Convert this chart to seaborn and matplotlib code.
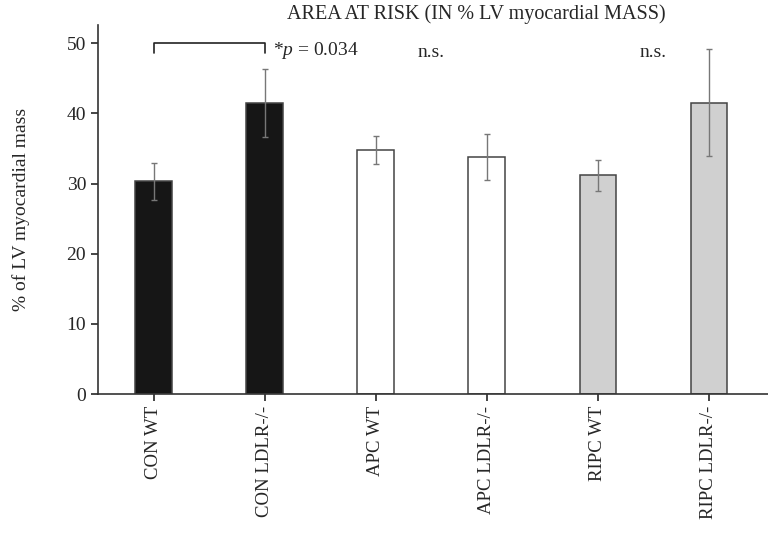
import matplotlib
matplotlib.use('Agg')
import matplotlib.pyplot as plt
import seaborn as sns
import numpy as np
import pandas as pd

groups = ['CON WT', 'CON LDLR-/-', 'APC WT', 'APC LDLR-/-', 'RIPC WT', 'RIPC LDLR-/-']
area_at_risk = [30.3, 41.5, 34.8, 33.8, 31.2, 41.5]
sem = [2.6, 4.8, 2.0, 3.3, 2.2, 7.6]
bar_colors = ['#161616', '#161616', '#ffffff', '#ffffff', '#d0d0d0', '#d0d0d0']

sns.set_style('ticks')
plt.rcParams['font.family'] = ['Liberation Serif', 'DejaVu Serif']
plt.rcParams['mathtext.fontset'] = 'custom'
plt.rcParams['mathtext.rm'] = 'Liberation Serif'
plt.rcParams['mathtext.it'] = 'Liberation Serif:italic'

df = pd.DataFrame({'group': groups, 'value': area_at_risk})

fig = plt.figure(figsize=(7.68, 5.42), dpi=100)
ax = fig.add_axes([0.1276, 0.273, 0.875, 0.681])

sns.barplot(data=df, x='group', y='value', hue='group', palette=bar_colors,
            width=0.33, edgecolor='#444444', linewidth=1.1, legend=False, ax=ax)
ax.errorbar(np.arange(len(groups)), area_at_risk, yerr=sem, fmt='none',
            ecolor='#777777', elinewidth=1.0, capsize=2.5, capthick=1.0)

ax.set_xlim(-0.5, 5.55)
ax.set_ylim(0, 52.6)
ax.set_yticks([0, 10, 20, 30, 40, 50])
ax.set_xlabel('')
ax.set_ylabel('% of LV myocardial mass', fontsize=14, labelpad=26)
ax.tick_params(axis='x', labelrotation=90, labelsize=13.5, length=5, width=1.2)
ax.tick_params(axis='y', labelsize=14, length=5, width=1.2)
for side in ['top', 'right']:
    ax.spines[side].set_visible(False)
for side in ['left', 'bottom']:
    ax.spines[side].set_linewidth(1.2)
    ax.spines[side].set_color('#333333')

# significance bracket
ax.plot([0, 0, 1, 1], [48.6, 50, 50, 48.6], color='#222222', lw=1.2, clip_on=False)
ax.text(1.08, 49.0, '*$p$ = 0.034', fontsize=14, va='center', ha='left')
ax.text(2.5, 48.7, 'n.s.', fontsize=14, va='center', ha='center')
ax.text(4.5, 48.7, 'n.s.', fontsize=14, va='center', ha='center')

fig.text(0.62, 0.974, 'AREA AT RISK (IN % LV myocardial MASS)', fontsize=14.5,
         ha='center', va='center')

fig.savefig('out.png', dpi=100)
